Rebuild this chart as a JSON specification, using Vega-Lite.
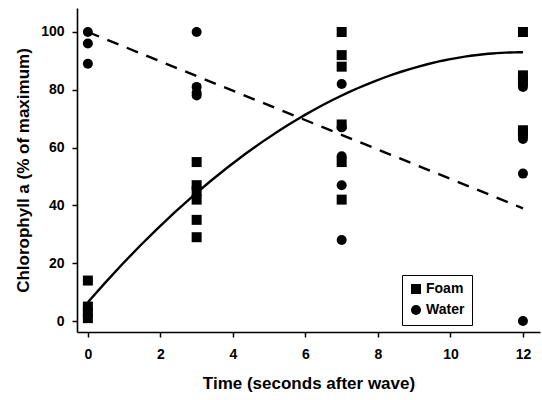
{
  "$schema": "https://vega.github.io/schema/vega-lite/v6.json",
  "width": 463,
  "height": 324,
  "autosize": {"type": "none"},
  "padding": {"left": 77, "top": 8, "right": 2, "bottom": 68},
  "background": "white",
  "config": {
    "view": {"stroke": null},
    "font": "Liberation Sans",
    "axis": {
      "grid": false,
      "domainColor": "black",
      "domainWidth": 1.6,
      "tickColor": "black",
      "tickWidth": 1.5,
      "tickSize": 5,
      "labelColor": "black",
      "labelFont": "Liberation Sans",
      "labelFontWeight": "bold",
      "labelFontSize": 14,
      "titleColor": "black",
      "titleFont": "Liberation Sans",
      "titleFontWeight": "bold",
      "titleFontSize": 17
    }
  },
  "datasets": {
    "points": [
      {"time": 0, "chl": 100, "type": "Water"},
      {"time": 0, "chl": 96, "type": "Water"},
      {"time": 0, "chl": 89, "type": "Water"},
      {"time": 0, "chl": 14, "type": "Foam"},
      {"time": 0, "chl": 5, "type": "Foam"},
      {"time": 0, "chl": 3, "type": "Foam"},
      {"time": 0, "chl": 1, "type": "Foam"},
      {"time": 3, "chl": 100, "type": "Water"},
      {"time": 3, "chl": 81, "type": "Water"},
      {"time": 3, "chl": 79, "type": "Water"},
      {"time": 3, "chl": 78, "type": "Water"},
      {"time": 3, "chl": 55, "type": "Foam"},
      {"time": 3, "chl": 47, "type": "Foam"},
      {"time": 3, "chl": 45, "type": "Foam"},
      {"time": 3, "chl": 42, "type": "Foam"},
      {"time": 3, "chl": 35, "type": "Foam"},
      {"time": 3, "chl": 29, "type": "Foam"},
      {"time": 7, "chl": 100, "type": "Foam"},
      {"time": 7, "chl": 92, "type": "Foam"},
      {"time": 7, "chl": 88, "type": "Foam"},
      {"time": 7, "chl": 68, "type": "Foam"},
      {"time": 7, "chl": 55, "type": "Foam"},
      {"time": 7, "chl": 42, "type": "Foam"},
      {"time": 7, "chl": 82, "type": "Water"},
      {"time": 7, "chl": 67, "type": "Water"},
      {"time": 7, "chl": 57, "type": "Water"},
      {"time": 7, "chl": 47, "type": "Water"},
      {"time": 7, "chl": 28, "type": "Water"},
      {"time": 12, "chl": 100, "type": "Foam"},
      {"time": 12, "chl": 85, "type": "Foam"},
      {"time": 12, "chl": 83, "type": "Foam"},
      {"time": 12, "chl": 66, "type": "Foam"},
      {"time": 12, "chl": 65, "type": "Foam"},
      {"time": 12, "chl": 81, "type": "Water"},
      {"time": 12, "chl": 63, "type": "Water"},
      {"time": 12, "chl": 51, "type": "Water"},
      {"time": 12, "chl": 0, "type": "Water"}
    ],
    "foamfit": [
      {"t": 0, "v": 6.5},
      {"t": 3, "v": 44.4},
      {"t": 6, "v": 71.4},
      {"t": 9, "v": 87.6},
      {"t": 12, "v": 93}
    ],
    "waterfit": [
      {"t": 0, "v": 100},
      {"t": 12, "v": 39}
    ]
  },
  "layer": [
    {
      "data": {"name": "foamfit"},
      "transform": [
        {"regression": "v", "on": "t", "method": "poly", "order": 2, "extent": [0, 12]}
      ],
      "mark": {"type": "line", "color": "black", "strokeWidth": 2.4},
      "encoding": {
        "x": {"field": "t", "type": "quantitative"},
        "y": {"field": "v", "type": "quantitative"}
      }
    },
    {
      "data": {"name": "waterfit"},
      "mark": {"type": "line", "color": "black", "strokeWidth": 2.4, "strokeDash": [12, 9]},
      "encoding": {
        "x": {"field": "t", "type": "quantitative"},
        "y": {"field": "v", "type": "quantitative"}
      }
    },
    {
      "data": {"name": "points"},
      "mark": {"type": "point", "filled": true, "opacity": 1, "color": "black"},
      "encoding": {
        "x": {
          "field": "time", "type": "quantitative",
          "scale": {"domain": [-0.3, 12.47], "nice": false, "zero": false},
          "axis": {"values": [0, 2, 4, 6, 8, 10, 12], "title": "Time (seconds after wave)", "labelPadding": 10, "titlePadding": 14}
        },
        "y": {
          "field": "chl", "type": "quantitative",
          "scale": {"domain": [-3.8, 108.3], "nice": false, "zero": false},
          "axis": {"values": [0, 20, 40, 60, 80, 100], "title": "Chlorophyll a (% of maximum)", "labelPadding": 8, "titlePadding": 8}
        },
        "shape": {
          "field": "type", "type": "nominal",
          "scale": {"domain": ["Foam", "Water"], "range": ["square", "circle"]},
          "legend": {
            "title": null,
            "orient": "none",
            "legendX": 325,
            "legendY": 267,
            "strokeColor": "black",
            "padding": 7,
            "fillColor": "white",
            "labelFont": "Liberation Sans",
            "labelFontWeight": "bold",
            "labelFontSize": 14,
            "labelColor": "black",
            "symbolFillColor": "black",
            "symbolStrokeColor": "black",
            "symbolSize": 100,
            "rowPadding": 5,
            "labelOffset": 3
          }
        },
        "size": {"value": 100}
      }
    }
  ]
}
